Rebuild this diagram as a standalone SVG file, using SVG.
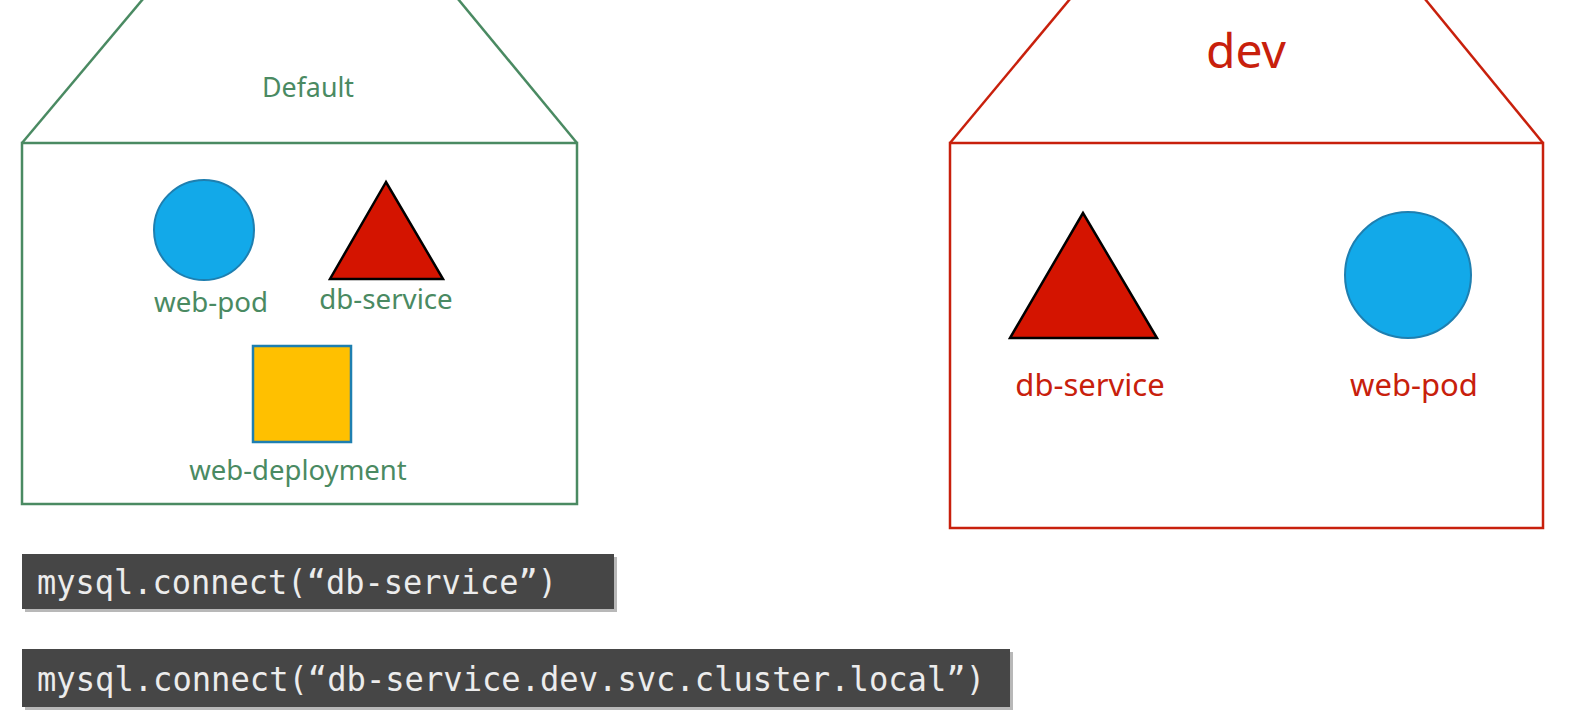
<svg xmlns="http://www.w3.org/2000/svg" width="1572" height="718" viewBox="0 0 1572 718">
<style>
.g{fill:none;stroke:#4a8a62;stroke-width:2.5}
.r{fill:none;stroke:#c8200c;stroke-width:2.5}
.gt{fill:#4a8a62;font-family:"Noto Sans","Open Sans",sans-serif;text-anchor:middle}
.rt{fill:#c8200c;font-family:"Noto Sans","Open Sans",sans-serif;text-anchor:middle}
.pod{fill:#12a9e9;stroke:#1e7fb0;stroke-width:2}
.svc{fill:#d41400;stroke:#000;stroke-width:2.5;stroke-linejoin:miter}
.dep{fill:#ffc000;stroke:#1e7fb0;stroke-width:2.5}
.code{fill:#464646}
.shadow{fill:#b8b8b8}
.ct{fill:#ececec;font-family:"DejaVu Sans Mono","Liberation Mono",monospace;font-size:34px}
</style>
<rect width="1572" height="718" fill="#fff"/>
<g id="ns-default">
<polyline class="g" points="22,143 143,-1"/>
<polyline class="g" points="577,143 458,-1"/>
<rect class="g" x="22" y="143" width="555" height="361"/>
<text class="gt" x="308" y="97" font-size="26.8">Default</text>
</g>
<g id="default-web-pod">
<circle class="pod" cx="204" cy="230" r="50"/>
<text class="gt" x="211" y="312" font-size="27.7">web-pod</text>
</g>
<g id="default-db-service">
<polygon class="svc" points="386,182 330,279 443,279"/>
<text class="gt" x="386" y="309" font-size="27.7">db-service</text>
</g>
<g id="default-web-deployment">
<rect class="dep" x="253" y="346" width="98" height="96"/>
<text class="gt" x="298" y="480" font-size="27.5">web-deployment</text>
</g>
<g id="ns-dev">
<polyline class="r" points="950,143 1070,-1"/>
<polyline class="r" points="1543,143 1425,-1"/>
<rect class="r" x="950" y="143" width="593" height="385"/>
<text class="rt" x="1246" y="68" font-size="48">dev</text>
</g>
<g id="dev-db-service">
<polygon class="svc" points="1083,213 1010,338 1157,338"/>
<text class="rt" x="1090" y="396" font-size="31">db-service</text>
</g>
<g id="dev-web-pod">
<circle class="pod" cx="1408" cy="275" r="63"/>
<text class="rt" x="1414" y="396" font-size="31">web-pod</text>
</g>
<g id="code1">
<rect class="shadow" x="25" y="557" width="592" height="55"/>
<rect class="code" x="22" y="554" width="592" height="55"/>
<text class="ct" x="37" y="594" textLength="520" lengthAdjust="spacingAndGlyphs">mysql.connect(“db-service”)</text>
</g>
<g id="code2">
<rect class="shadow" x="25" y="652" width="988" height="58"/>
<rect class="code" x="22" y="649" width="988" height="58"/>
<text class="ct" x="37" y="691" textLength="948" lengthAdjust="spacingAndGlyphs">mysql.connect(“db-service.dev.svc.cluster.local”)</text>
</g>
<g id="connectors"></g>
</svg>
